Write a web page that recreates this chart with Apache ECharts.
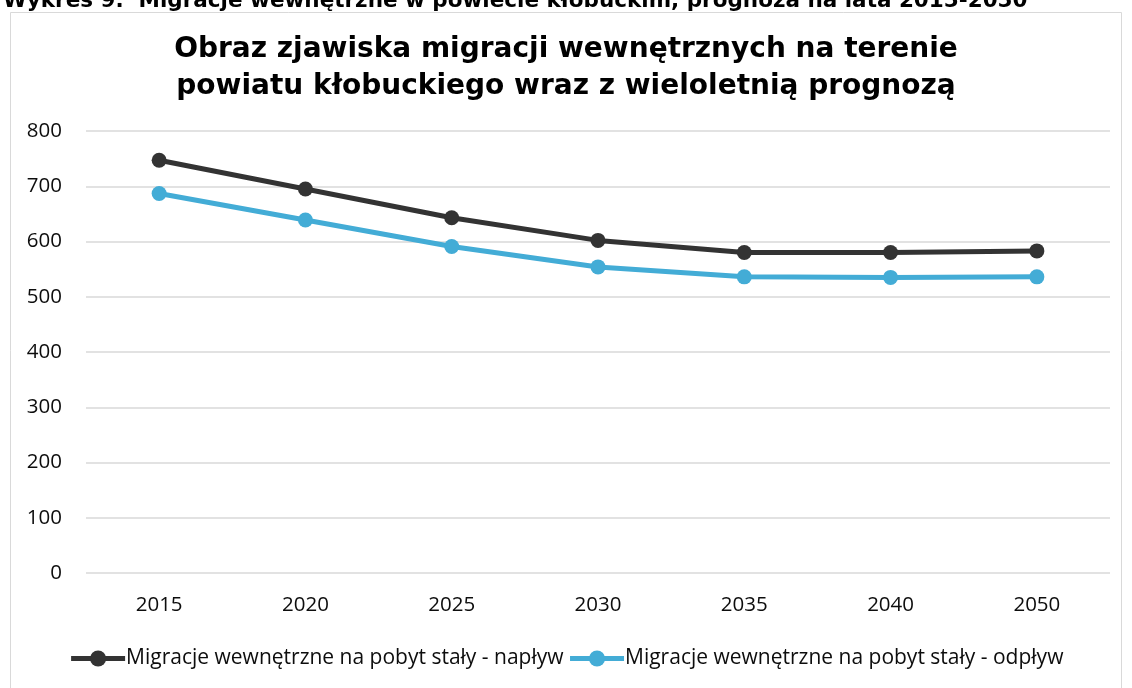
<!DOCTYPE html>
<html>
<head>
<meta charset="utf-8">
<script src="https://cdn.jsdelivr.net/npm/echarts@6/dist/echarts.min.js"></script>
<style>
  html, body { margin: 0; padding: 0; background: #fff; }
  #main { width: 1132px; height: 688px; }
</style>
</head>
<body>
<div id="main"></div>
<script>
// dane
let years = ['2015', '2020', '2025', '2030', '2035', '2040', '2050'];
let naplyw = [747, 695, 643, 602, 580, 580, 583];
let odplyw = [687, 639, 591, 554, 536, 535, 536];
let naplywName = 'Migracje wewnętrzne na pobyt stały - napływ';
let odplywName = 'Migracje wewnętrzne na pobyt stały - odpływ';

let chart = echarts.init(document.getElementById('main'));

let labelFont = 'Open Sans, Noto Sans, sans-serif';

let option = {
    backgroundColor: '#fff',
    animation: false,
    graphic: [{
        type: 'rect',
        shape: { x: 10.5, y: 12.5, width: 1111, height: 700 },
        style: { fill: 'none', stroke: '#d9d9d9', lineWidth: 1 }
    }],
    title: [{
        text: 'Wykres 9.  Migracje wewnętrzne w powiecie kłobuckim, prognoza na lata 2015-2050',
        left: -2,
        top: -15,
        textStyle: {
            fontFamily: 'DejaVu Sans',
            fontWeight: 'bold',
            fontSize: 21.5,
            color: '#000'
        }
    }, {
        text: 'Obraz zjawiska migracji wewnętrznych na terenie\npowiatu kłobuckiego wraz z wieloletnią prognozą',
        left: 'center',
        top: 26,
        textStyle: {
            fontFamily: 'DejaVu Sans',
            fontWeight: 'bold',
            fontSize: 28,
            lineHeight: 37,
            color: '#000'
        }
    }],
    legend: {
        bottom: 14,
        left: 'center',
        itemGap: 4,
        itemWidth: 54,
        itemHeight: 20,
        lineStyle: { width: 5 },
        textStyle: {
            fontFamily: labelFont,
            fontSize: 21,
            color: '#0d0d0d',
            padding: [0, 0, 0, -4]
        },
        data: [naplywName, odplywName]
    },
    grid: {
        left: 86,
        right: 22,
        top: 131,
        bottom: 115
    },
    xAxis: {
        type: 'category',
        data: years,
        boundaryGap: true,
        axisLine: { show: false },
        axisTick: { show: false },
        axisLabel: {
            fontFamily: labelFont,
            fontSize: 20.5,
            color: '#0d0d0d',
            margin: 22
        }
    },
    yAxis: {
        type: 'value',
        min: 0,
        max: 800,
        interval: 100,
        axisLine: { show: false },
        axisTick: { show: false },
        splitLine: { lineStyle: { color: '#d9d9d9', width: 1.5 } },
        axisLabel: {
            fontFamily: labelFont,
            fontSize: 20.5,
            color: '#0d0d0d',
            margin: 24
        }
    },
    series: [{
        name: naplywName,
        type: 'line',
        data: naplyw,
        symbol: 'circle',
        symbolSize: 15,
        lineStyle: { width: 5, color: '#333333' },
        itemStyle: { color: '#333333' }
    }, {
        name: odplywName,
        type: 'line',
        data: odplyw,
        symbol: 'circle',
        symbolSize: 15,
        lineStyle: { width: 5, color: '#43acd6' },
        itemStyle: { color: '#43acd6' }
    }]
};

chart.setOption(option);
</script>
</body>
</html>
